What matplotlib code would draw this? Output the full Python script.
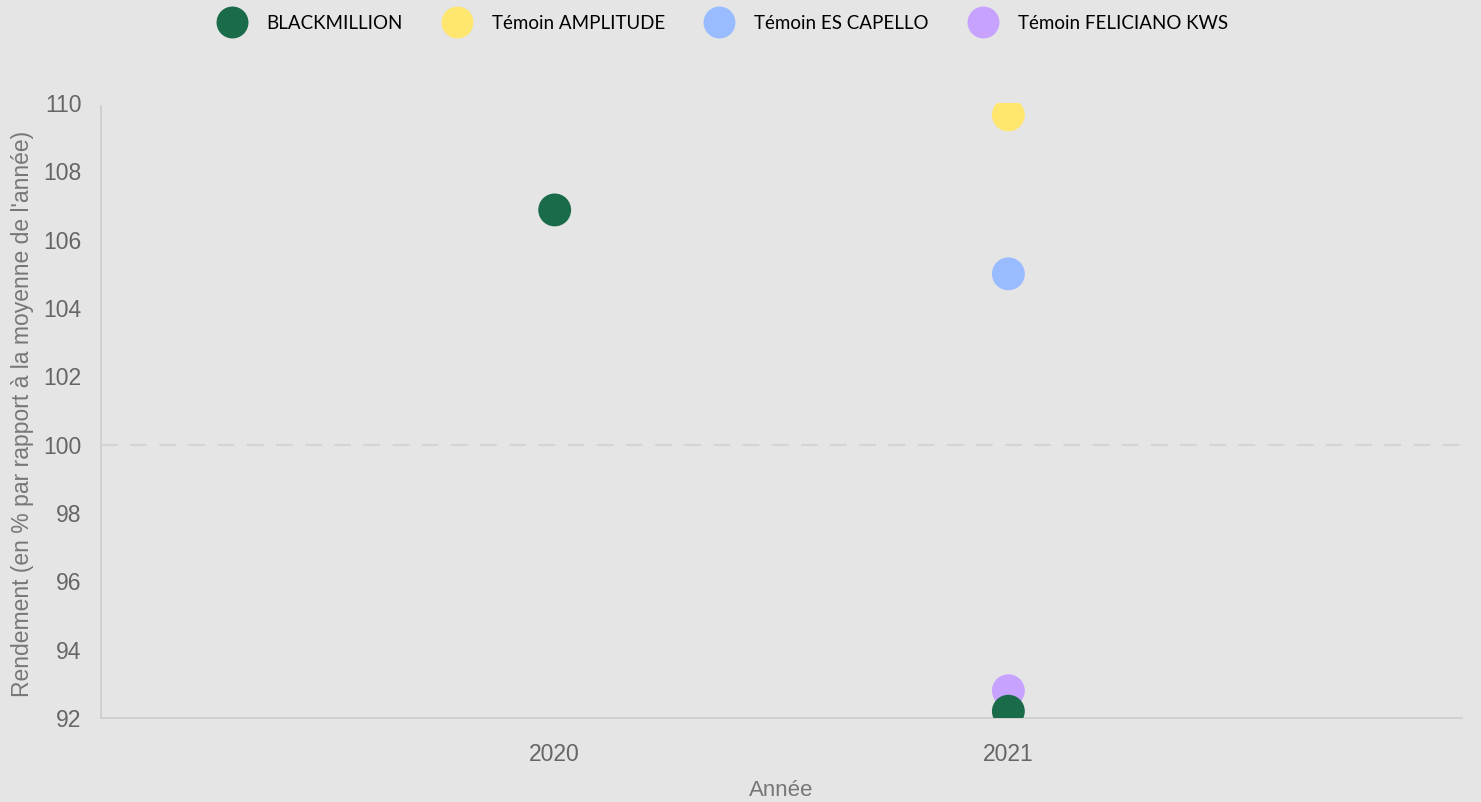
import matplotlib.pyplot as plt
from matplotlib.lines import Line2D

# data
series = ["BLACKMILLION", "Témoin AMPLITUDE", "Témoin ES CAPELLO", "Témoin FELICIANO KWS"]
colors = ["#1a6b4a", "#ffe66e", "#99bbff", "#c7a3ff"]
years_by_series = [[2020, 2021], [2021], [2021], [2021]]
values_by_series = [[106.87, 92.2], [109.65], [105.0], [92.8]]
year_ticks = [2020, 2021]

bg = "#e5e5e5"
plt.rcParams['font.family'] = ['Liberation Sans', 'DejaVu Sans']

fig = plt.figure(figsize=(14.81, 8.02), dpi=100, facecolor=bg)
ax = fig.add_axes([0.0682, 0.1047, 0.9190, 0.7669], facecolor=bg)

# reference line at 100
ax.axhline(100, color="#d4d4d4", lw=1.5, ls=(0, (8, 6)), zorder=1)

# draw in order so the green 2021 point sits over the purple one
order = [1, 2, 3, 0]
for i in order:
    ax.scatter(years_by_series[i], values_by_series[i], s=560, color=colors[i],
               edgecolors="none", zorder=3)

ax.set_xlim(2019, 2022)
ax.set_ylim(92, 110)
ax.set_xticks(year_ticks)
ax.set_xticklabels([str(y) for y in year_ticks])
ax.set_yticks(range(92, 111, 2))

for s in ["top", "right"]:
    ax.spines[s].set_visible(False)
ax.spines["left"].set_color("#cccccc")
ax.spines["bottom"].set_color("#cccccc")
ax.spines["left"].set_linewidth(1.2)
ax.spines["bottom"].set_linewidth(1.2)
ax.spines["left"].set_bounds(92, 109.9)

ax.tick_params(axis="both", length=0, labelsize=16.5, labelcolor="#666666")
ax.tick_params(axis="y", pad=14)
ax.tick_params(axis="x", pad=18)

ax.set_xlabel("Année", fontsize=16, color="#777777", labelpad=10)
ax.set_ylabel("Rendement (en % par rapport à la moyenne de l'année)",
              fontsize=16.5, color="#777777")
ax.yaxis.set_label_coords(-0.049, 0.494)

handles = [Line2D([0], [0], marker="o", ls="none", markersize=23,
                  markerfacecolor=c, markeredgecolor="none") for c in colors]
fig.legend(handles, series, loc="center", bbox_to_anchor=(0.488, 0.971),
           ncol=4, frameon=False, prop={"family": "Lato", "size": 13.5},
           columnspacing=2.15, handletextpad=1.1, handlelength=1.5)

fig.savefig("out.png", dpi=100, facecolor=bg)
